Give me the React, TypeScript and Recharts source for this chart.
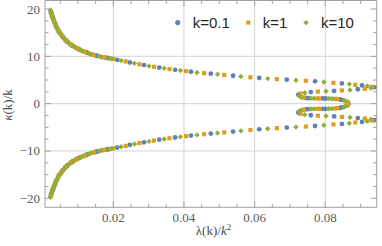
import React from 'react';
import { ScatterChart, Scatter, XAxis, YAxis, ReferenceLine, ReferenceArea } from 'recharts';

// ---------- data ----------
const seriesNames = ['k=0.1', 'k=1', 'k=10'];
const seriesColors = ['#5E81B5', '#E19C24', '#8FB032'];

// k = 0.1 : [lambda/k^2, kappa/k]
const k01Upper: [number, number][] = [
  [0.0024, 19.25], [0.00245, 19.1], [0.0027, 18.45], [0.0028, 18.27], [0.0032, 17.5], [0.0033, 17.3],
  [0.0038, 16.4], [0.0039, 16.22], [0.0046, 15.25], [0.00475, 15.07], [0.0056, 14.2], [0.0058, 14.02],
  [0.0068, 13.2], [0.00705, 13.05], [0.0083, 12.3], [0.0086, 12.17], [0.0101, 11.55], [0.01045, 11.42],
  [0.0123, 10.85], [0.0127, 10.72], [0.015, 10.2], [0.0155, 10.1], [0.018, 9.7], [0.0185, 9.63],
  [0.0211, 9.27], [0.0247, 8.7], [0.0287, 8.16], [0.033, 7.62], [0.0375, 7.15], [0.042, 6.75],
  [0.0476, 6.33], [0.0539, 5.9], [0.0613, 5.42], [0.0691, 5.06], [0.0771, 4.72], [0.0847, 4.28],
  [0.0904, 3.85], [0.0939, 3.45],
  [0.0892, 3.05], [0.0825, 2.7], [0.0759, 2.45], [0.0724, 1.92], [0.0725, 1.76], [0.0745, 1.2],
  [0.0752, 1.15], [0.0793, 1.1], [0.0801, 1.09], [0.0841, 0.9], [0.0847, 0.8], [0.0865, 0.15],
];
const k01Lower: [number, number][] = [
  [0.0024, -19.25], [0.00245, -19.1], [0.0027, -18.45], [0.0028, -18.27], [0.0032, -17.5], [0.0033, -17.3],
  [0.0038, -16.4], [0.0039, -16.22], [0.0046, -15.25], [0.00475, -15.07], [0.0056, -14.2], [0.0058, -14.02],
  [0.0068, -13.2], [0.00705, -13.05], [0.0083, -12.3], [0.0086, -12.17], [0.0101, -11.55], [0.01045, -11.42],
  [0.0123, -10.85], [0.0127, -10.72], [0.015, -10.2], [0.0155, -10.1], [0.018, -9.7], [0.0185, -9.63],
  [0.0211, -9.27], [0.0247, -8.7], [0.0287, -8.16], [0.033, -7.62], [0.0375, -7.15], [0.042, -6.75],
  [0.0476, -6.33], [0.0539, -5.9], [0.0613, -5.42], [0.0691, -5.06], [0.0771, -4.72], [0.0847, -4.28],
  [0.0904, -3.85], [0.0939, -3.45],
  [0.0892, -3.05], [0.0825, -2.7], [0.0759, -2.45], [0.0724, -1.92], [0.0725, -1.76], [0.0745, -1.2],
  [0.0752, -1.15], [0.0793, -1.1], [0.0801, -1.09], [0.0841, -0.9], [0.0847, -0.8], [0.0865, -0.15],
];

// k = 1
const k1Upper: [number, number][] = [
  [0.0023, 19.5], [0.00235, 19.37], [0.0026, 18.7], [0.00265, 18.57], [0.003, 17.85], [0.0031, 17.67],
  [0.0036, 16.75], [0.0037, 16.57], [0.0043, 15.6], [0.00445, 15.42], [0.0052, 14.6], [0.0054, 14.4],
  [0.0064, 13.5], [0.0066, 13.35], [0.0078, 12.6], [0.00805, 12.45], [0.0095, 11.8], [0.0098, 11.67],
  [0.0115, 11.1], [0.0119, 10.97], [0.014, 10.4], [0.0145, 10.3], [0.017, 9.85], [0.0175, 9.77], [0.02, 9.45],
  [0.0235, 8.92], [0.0274, 8.33], [0.0315, 7.79], [0.0359, 7.31], [0.0406, 6.87],
  [0.0457, 6.45], [0.0514, 6.07], [0.0588, 5.57], [0.0663, 5.18], [0.0745, 4.83], [0.0823, 4.4],
  [0.0885, 3.98], [0.0933, 3.58],
  [0.0912, 3.15], [0.0847, 2.8], [0.0779, 2.55], [0.073, 2.15], [0.0734, 1.35], [0.0739, 1.27],
  [0.0776, 1.1], [0.0784, 1.1], [0.0827, 1.02], [0.0834, 0.97], [0.0861, 0.42], [0.0863, 0.3],
];
const k1Lower: [number, number][] = [
  [0.0023, -19.5], [0.00235, -19.37], [0.0026, -18.7], [0.00265, -18.57], [0.003, -17.85], [0.0031, -17.67],
  [0.0036, -16.75], [0.0037, -16.57], [0.0043, -15.6], [0.00445, -15.42], [0.0052, -14.6], [0.0054, -14.4],
  [0.0064, -13.5], [0.0066, -13.35], [0.0078, -12.6], [0.00805, -12.45], [0.0095, -11.8], [0.0098, -11.67],
  [0.0115, -11.1], [0.0119, -10.97], [0.014, -10.4], [0.0145, -10.3], [0.017, -9.85], [0.0175, -9.77], [0.02, -9.45],
  [0.0235, -8.92], [0.0274, -8.33], [0.0315, -7.79], [0.0359, -7.31], [0.0406, -6.87],
  [0.0457, -6.45], [0.0514, -6.07], [0.0588, -5.57], [0.0663, -5.18], [0.0745, -4.83], [0.0823, -4.4],
  [0.0885, -3.98], [0.0933, -3.58],
  [0.0912, -3.15], [0.0847, -2.8], [0.0779, -2.55], [0.073, -2.15], [0.0734, -1.35], [0.0739, -1.27],
  [0.0776, -1.1], [0.0784, -1.1], [0.0827, -1.02], [0.0834, -0.97], [0.0861, -0.42], [0.0863, -0.3],
];

// k = 10
const k10Upper: [number, number][] = [
  [0.0022, 19.8], [0.00225, 19.65], [0.0025, 18.95], [0.00255, 18.82], [0.0029, 18.1], [0.00295, 17.97],
  [0.0034, 17.1], [0.0035, 16.92], [0.004, 16.05], [0.00415, 15.82], [0.0049, 14.9], [0.00505, 14.75],
  [0.006, 13.85], [0.0062, 13.67], [0.0073, 12.9], [0.00755, 12.75], [0.0089, 12.05], [0.0092, 11.92],
  [0.0108, 11.3], [0.01115, 11.2], [0.0131, 10.6], [0.01355, 10.5], [0.016, 10.0], [0.0165, 9.92],
  [0.019, 9.57], [0.0195, 9.51],
  [0.0222, 9.1], [0.026, 8.52], [0.0301, 7.97], [0.0344, 7.46], [0.039, 7.01],
  [0.0437, 6.6], [0.0495, 6.2], [0.0561, 5.75], [0.0637, 5.3], [0.0717, 4.95], [0.0796, 4.57],
  [0.0868, 4.13], [0.0919, 3.75],
  [0.0929, 3.3], [0.087, 2.9], [0.0802, 2.62], [0.0742, 2.32], [0.0727, 1.6], [0.073, 1.47],
  [0.0759, 1.12], [0.0767, 1.11], [0.081, 1.08], [0.0818, 1.05], [0.0853, 0.68], [0.0857, 0.56],
];
const k10Lower: [number, number][] = [
  [0.0022, -19.8], [0.00225, -19.65], [0.0025, -18.95], [0.00255, -18.82], [0.0029, -18.1], [0.00295, -17.97],
  [0.0034, -17.1], [0.0035, -16.92], [0.004, -16.05], [0.00415, -15.82], [0.0049, -14.9], [0.00505, -14.75],
  [0.006, -13.85], [0.0062, -13.67], [0.0073, -12.9], [0.00755, -12.75], [0.0089, -12.05], [0.0092, -11.92],
  [0.0108, -11.3], [0.01115, -11.2], [0.0131, -10.6], [0.01355, -10.5], [0.016, -10.0], [0.0165, -9.92],
  [0.019, -9.57], [0.0195, -9.51],
  [0.0222, -9.1], [0.026, -8.52], [0.0301, -7.97], [0.0344, -7.46], [0.039, -7.01],
  [0.0437, -6.6], [0.0495, -6.2], [0.0561, -5.75], [0.0637, -5.3], [0.0717, -4.95], [0.0796, -4.57],
  [0.0868, -4.13], [0.0919, -3.75],
  [0.0929, -3.3], [0.087, -2.9], [0.0802, -2.62], [0.0742, -2.32], [0.0727, -1.6], [0.073, -1.47],
  [0.0759, -1.12], [0.0767, -1.11], [0.081, -1.08], [0.0818, -1.05], [0.0853, -0.68], [0.0857, -0.56],
];

const xTicks = [0.005, 0.01, 0.015, 0.02, 0.025, 0.03, 0.035, 0.04, 0.045, 0.05, 0.055, 0.06, 0.065, 0.07, 0.075, 0.08, 0.085, 0.09];
const xLabelTicks = [0.02, 0.04, 0.06, 0.08];
const yTicks = [-20, -17.5, -15, -12.5, -10, -7.5, -5, -2.5, 0, 2.5, 5, 7.5, 10, 12.5, 15, 17.5, 20];
const yLabelTicks = [-20, -10, 0, 10, 20];
const gridX = [0.02, 0.04, 0.06, 0.08];
const gridY = [-10, 0, 10];

const xTitle = 'λ(k)/';
const yTitle = '(k)/k';

// ---------- layout ----------
const W = 382;
const H = 246;
const MARGIN = { top: 0.5, right: 5.3, left: 0, bottom: 0 };
const Y_AXIS_W = 45;
const X_AXIS_H = 38.7;
const PLOT_W = W - MARGIN.left - MARGIN.right - Y_AXIS_W;
const PLOT_H = H - MARGIN.top - MARGIN.bottom - X_AXIS_H;
const X_DOMAIN: [number, number] = [0.00067, 0.09455];
const Y_DOMAIN: [number, number] = [-21.9, 21.8];

const FRAME = '#a0a0a0';
const GRID = '#d4d4d4';
const TICK_TEXT = '#5a5a5a';
const SERIF = '"Liberation Serif", "Times New Roman", "DejaVu Serif", serif';
const SANS = '"Liberation Sans", Arial, "DejaVu Sans", sans-serif';

const isIn = (v: number, list: number[]) => list.some((m) => Math.abs(m - v) < 1e-9);
const fmtY = (v: number) => (v < 0 ? '\u2212' + Math.abs(v) : String(v));

const toPoints = (rows: [number, number][]) => rows.map(([x, y]) => ({ x, y }));

const XTick = (props: any) => {
  const { x, y, payload } = props;
  const v = payload.value as number;
  const major = isIn(v, xLabelTicks);
  const len = major ? 6 : 3.5;
  return (
    <g>
      <line x1={x} x2={x} y1={y} y2={y - len} stroke={FRAME} strokeWidth={1} />
      <line x1={x} x2={x} y1={y - PLOT_H} y2={y - PLOT_H + len} stroke={FRAME} strokeWidth={1} />
      {major && (
        <text x={x} y={y + 14.3} textAnchor="middle" fontFamily={SERIF} fontSize={13} fill={TICK_TEXT}>
          {v.toFixed(2)}
        </text>
      )}
    </g>
  );
};

const YTick = (props: any) => {
  const { x, y, payload } = props;
  const v = payload.value as number;
  const major = isIn(v, yLabelTicks);
  const len = major ? 6 : 3.5;
  return (
    <g>
      <line x1={x} x2={x + len} y1={y} y2={y} stroke={FRAME} strokeWidth={1} />
      <line x1={x + PLOT_W} x2={x + PLOT_W - len} y1={y} y2={y} stroke={FRAME} strokeWidth={1} />
      {major && (
        <text x={x - 5} y={y + 4.5} textAnchor="end" fontFamily={SERIF} fontSize={13} fill={TICK_TEXT}>
          {fmtY(v)}
        </text>
      )}
    </g>
  );
};

const Circle = (props: any) => <circle cx={props.cx} cy={props.cy} r={2.4} fill={seriesColors[0]} />;
const Square = (props: any) => (
  <rect x={props.cx - 2.1} y={props.cy - 2.1} width={4.2} height={4.2} fill={seriesColors[1]} />
);
const Diamond = (props: any) => {
  const { cx, cy } = props;
  const s = 2.7;
  return <polygon points={`${cx},${cy - s} ${cx + s},${cy} ${cx},${cy + s} ${cx - s},${cy}`} fill={seriesColors[2]} />;
};

const LEGEND_ITEMS = [
  { marker: 177.7, text: 192.7 },
  { marker: 248.3, text: 262.7 },
  { marker: 306, text: 321 },
];

const Overlay = () => (
  <svg width={W} height={H} style={{ position: 'absolute', left: 0, top: 0, pointerEvents: 'none' }}>
    {LEGEND_ITEMS.map((it, i) => (
      <g key={i}>
        {i === 0 && <circle cx={it.marker} cy={22.6} r={2.6} fill={seriesColors[0]} />}
        {i === 1 && <rect x={it.marker - 2.1} y={20.5} width={4.2} height={4.2} fill={seriesColors[1]} />}
        {i === 2 && (
          <polygon
            points={`${it.marker},${22.6 - 2.7} ${it.marker + 2.7},22.6 ${it.marker},${22.6 + 2.7} ${it.marker - 2.7},22.6`}
            fill={seriesColors[2]}
          />
        )}
        <text x={it.text} y={28.3} fontFamily={SANS} fontSize={15} fill="#262626">
          {seriesNames[i]}
        </text>
      </g>
    ))}
    <text x={213.5} y={235} textAnchor="middle" fontFamily={SERIF} fontSize={13} fill="#4a4a4a">
      <tspan>{xTitle}</tspan>
      <tspan fontStyle="italic">k</tspan>
      <tspan dy={-5} fontSize={9}>2</tspan>
    </text>
    <text transform="translate(11.5,105) rotate(-90)" textAnchor="middle" fontFamily={SERIF} fontSize={13} fill="#4a4a4a">
      <tspan fontStyle="italic">κ</tspan>
      <tspan>{yTitle}</tspan>
    </text>
  </svg>
);

export default function App() {
  return (
    <div style={{ position: 'absolute', left: 0, top: 0, width: W, height: H, background: '#fff' }}>
      <ScatterChart width={W} height={H} margin={MARGIN}>
        <XAxis
          type="number"
          dataKey="x"
          domain={X_DOMAIN}
          allowDataOverflow
          ticks={xTicks}
          interval={0}
          height={X_AXIS_H}
          axisLine={false}
          tickLine={false}
          tickSize={0}
          tickMargin={0}
          tick={<XTick />}
        />
        <YAxis
          type="number"
          dataKey="y"
          domain={Y_DOMAIN}
          allowDataOverflow
          ticks={yTicks}
          interval={0}
          width={Y_AXIS_W}
          axisLine={false}
          tickLine={false}
          tickSize={0}
          tickMargin={0}
          tick={<YTick />}
        />
        {gridX.map((v) => (
          <ReferenceLine key={'gx' + v} x={v} stroke={GRID} strokeWidth={1} />
        ))}
        {gridY.map((v) => (
          <ReferenceLine key={'gy' + v} y={v} stroke={GRID} strokeWidth={1} />
        ))}
        <ReferenceArea
          x1={X_DOMAIN[0]}
          x2={X_DOMAIN[1]}
          y1={Y_DOMAIN[0]}
          y2={Y_DOMAIN[1]}
          fill="none"
          fillOpacity={0}
          stroke={FRAME}
          strokeWidth={1}
          strokeOpacity={1}
        />
        <Scatter name={seriesNames[0]} data={toPoints([...k01Upper, ...k01Lower])} shape={<Circle />} isAnimationActive={false} />
        <Scatter name={seriesNames[1]} data={toPoints([...k1Upper, ...k1Lower])} shape={<Square />} isAnimationActive={false} />
        <Scatter name={seriesNames[2]} data={toPoints([...k10Upper, ...k10Lower])} shape={<Diamond />} isAnimationActive={false} />
      </ScatterChart>
      <Overlay />
    </div>
  );
}
